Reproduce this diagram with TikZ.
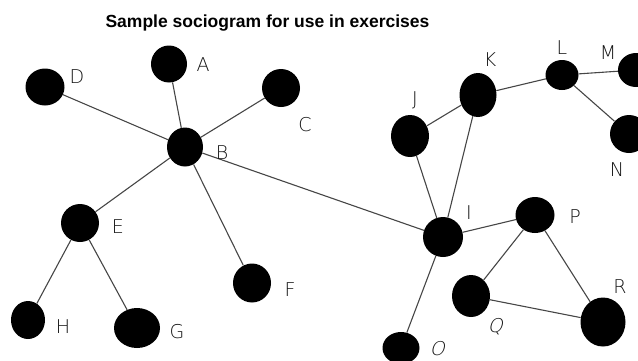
\documentclass[tikz,border=0pt]{standalone}
\usepackage{fontspec}
\setmainfont{Liberation Sans}
\newfontfamily\lblfont{DejaVu Sans ExtraLight}
\newfontfamily\lblslant[FakeSlant=0.25]{DejaVu Sans ExtraLight}
\usetikzlibrary{shapes.geometric}
\definecolor{edgegray}{RGB}{70,70,70}
\definecolor{lblgray}{RGB}{20,20,20}
\tikzset{
  actor/.style={ellipse, fill=black, inner sep=0pt},
  tie/.style={draw=edgegray, line width=1.1pt},
  lbl/.style={inner sep=0pt, text=lblgray, font=\lblfont\fontsize{19}{19}\selectfont},
  ilbl/.style={inner sep=0pt, text=lblgray, font=\lblslant\fontsize{19}{19}\selectfont},
}
\newcommand{\actor}[5]{\node[actor, minimum width=#4pt, minimum height=#5pt] (#1) at (#2,#3) {};}
\begin{document}
\begin{tikzpicture}[x=1pt,y=-1pt]
\useasboundingbox (0,0) rectangle (638,360);
\clip (0,0) rectangle (638,360);
\node[font=\bfseries\fontsize{17.5}{17.5}\selectfont, anchor=base, inner sep=0pt] (title) at (267.5,27) {Sample sociogram for use in exercises};
% actors: name, x, y, width, height
\actor{A}{169}{64}{36}{37}
\actor{B}{185}{147}{36}{39}
\actor{C}{281}{88}{38}{38}
\actor{D}{45}{87}{39}{37}
\actor{E}{80}{223}{38}{38}
\actor{F}{252}{283}{38}{39}
\actor{G}{137}{328}{46}{40}
\actor{H}{28}{320}{34}{38}
\actor{I}{443}{237}{40}{40}
\actor{J}{410}{136}{38}{42}
\actor{K}{478}{95}{37}{44}
\actor{L}{562}{75}{33}{30}
\actor{M}{636}{70}{36}{34}
\actor{N}{629}{134}{38}{38}
\actor{O}{401}{348}{37}{32}
\actor{P}{535}{215}{39}{36}
\actor{Q}{471}{296}{38}{42}
\actor{R}{603}{322}{45}{49}
% ties
\draw[tie] (D) -- (B);
\draw[tie] (A) -- (B);
\draw[tie] (C) -- (B);
\draw[tie] (B) -- (E);
\draw[tie] (B) -- (F);
\draw[tie] (B) -- (I);
\draw[tie] (E) -- (H);
\draw[tie] (E) -- (G);
\draw[tie] (I) -- (J);
\draw[tie] (I) -- (K);
\draw[tie] (J) -- (K);
\draw[tie] (K) -- (L);
\draw[tie] (L) -- (M);
\draw[tie] (L) -- (N);
\draw[tie] (I) -- (P);
\draw[tie] (I) -- (O);
\draw[tie] (P) -- (Q);
\draw[tie] (P) -- (R);
\draw[tie] (Q) -- (R);
% labels
\node[lbl] (lA) at (203,65) {A};
\node[lbl] (lB) at (222,153) {B};
\node[lbl] (lC) at (305,125) {C};
\node[lbl] (lD) at (77,77) {D};
\node[lbl] (lE) at (118,227) {E};
\node[lbl] (lF) at (290,290) {F};
\node[lbl] (lG) at (177,332) {G};
\node[lbl] (lH) at (63,327) {H};
\node[lbl] (lI) at (469,213) {I};
\node[lbl] (lJ) at (415,100) {J};
\node[lbl] (lK) at (490,60) {K};
\node[lbl] (lL) at (562,48) {L};
\node[lbl] (lM) at (608,53) {M};
\node[lbl] (lN) at (617,170) {N};
\node[ilbl] (lO) at (437,349) {O};
\node[lbl] (lP) at (575,217) {P};
\node[ilbl] (lQ) at (495,327) {Q};
\node[lbl] (lR) at (620,287) {R};
\end{tikzpicture}
\end{document}
